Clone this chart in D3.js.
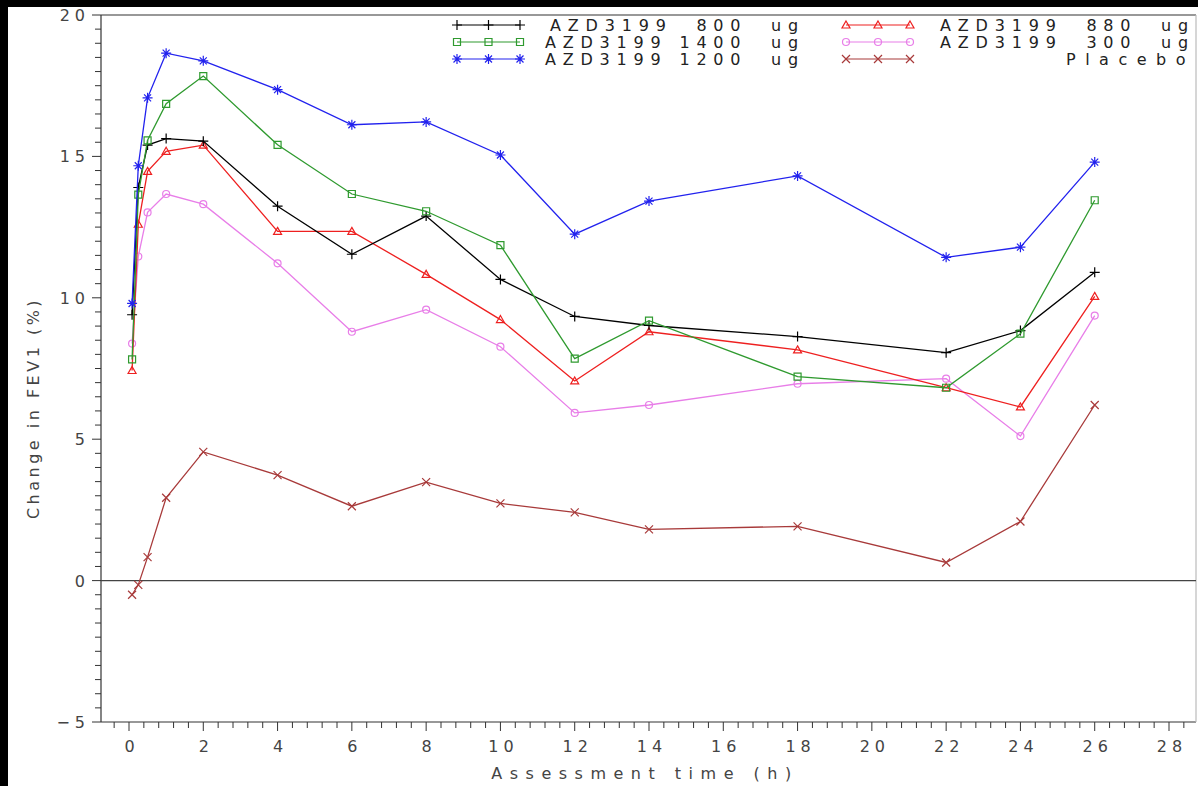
<!DOCTYPE html>
<html><head><meta charset="utf-8">
<script src="https://cdn.jsdelivr.net/npm/d3@7"></script>
<style>
html,body{margin:0;padding:0;background:#fff;}
svg text{white-space:pre;}
</style></head>
<body><svg id="chart" width="1198" height="786"></svg>
<script>
const times = [0.083, 0.25, 0.5, 1, 2, 4, 6, 8, 10, 12, 14, 18, 22, 24, 26];
const azd800  = [9.4, 13.9, 15.4, 15.63, 15.54, 13.24, 11.54, 12.89, 10.65, 9.34, 9.02, 8.63, 8.06, 8.84, 10.9];
const azd1400 = [7.82, 13.65, 15.57, 16.86, 17.84, 15.41, 13.67, 13.06, 11.86, 7.85, 9.19, 7.21, 6.82, 8.73, 13.45];
const azd1200 = [9.8, 14.67, 17.07, 18.65, 18.38, 17.36, 16.12, 16.22, 15.05, 12.25, 13.42, 14.31, 11.43, 11.79, 14.8];
const azd880  = [7.43, 12.6, 14.47, 15.18, 15.4, 12.35, 12.35, 10.83, 9.23, 7.06, 8.8, 8.16, 6.82, 6.14, 10.05];
const azd300  = [8.38, 11.46, 13.02, 13.67, 13.31, 11.22, 8.8, 9.58, 8.27, 5.93, 6.21, 6.96, 7.14, 5.11, 9.37];
const placebo = [-0.5, -0.15, 0.83, 2.93, 4.55, 3.73, 2.63, 3.48, 2.73, 2.41, 1.81, 1.92, 0.64, 2.09, 6.21];
const seriesNames = ["AZD3199  800  ug", "AZD3199 1400  ug", "AZD3199 1200  ug", "AZD3199  880  ug", "AZD3199  300  ug", "Placebo"];
const xTicks = [0, 2, 4, 6, 8, 10, 12, 14, 16, 18, 20, 22, 24, 26, 28];
const yTicks = [-5, 0, 5, 10, 15, 20];

const svg = d3.select("#chart");
const x = d3.scaleLinear().domain([0, 28]).range([129, 1169]);
const y = d3.scaleLinear().domain([-5, 20]).range([722, 15]);
const left = 101, right = 1196;

// outer black border
svg.append("rect").attr("x",0).attr("y",0).attr("width",1198).attr("height",7).attr("fill","#000");
svg.append("rect").attr("x",0).attr("y",0).attr("width",8).attr("height",786).attr("fill","#000");

// frame
const frame = svg.append("g").attr("stroke","#333").attr("fill","none").attr("stroke-width",1.2);
frame.append("line").attr("x1",left).attr("x2",left).attr("y1",y(20)).attr("y2",y(-5));
frame.append("line").attr("x1",left).attr("x2",right).attr("y1",y(20)).attr("y2",y(20));
frame.append("line").attr("x1",left).attr("x2",right).attr("y1",y(-5)).attr("y2",y(-5));
frame.append("line").attr("x1",right).attr("x2",right).attr("y1",y(20)).attr("y2",y(-5)).attr("stroke","#bbb");
// zero reference
svg.append("line").attr("x1",left).attr("x2",right).attr("y1",y(0)).attr("y2",y(0)).attr("stroke","#444").attr("stroke-width",1.2);

// axes with minor ticks
const yMinor = d3.range(-5, 20.001, 0.5);
svg.append("g").selectAll("line").data(yMinor).join("line")
  .attr("x1", d => yTicks.includes(d) ? left-9 : left-6).attr("x2", left)
  .attr("y1", d => y(d)).attr("y2", d => y(d)).attr("stroke","#333");
svg.append("g").selectAll("text").data(yTicks).join("text")
  .attr("x", 90).attr("y", d => y(d)+6).attr("text-anchor","end")
  .attr("font-family","DejaVu Sans").attr("font-size",16).attr("letter-spacing",5).attr("fill","#444")
  .text(d => d < 0 ? "\u2212" + Math.abs(d) : String(d));

const xMinor = d3.range(-0.4, 28.7, 0.4);
svg.append("g").selectAll("line").data(xMinor).join("line")
  .attr("y1", y(-5)).attr("y2", d => Math.abs(d/2 - Math.round(d/2)) < 1e-6 ? y(-5)+9 : y(-5)+6)
  .attr("x1", d => x(d)).attr("x2", d => x(d)).attr("stroke","#333");
svg.append("g").selectAll("text").data(xTicks).join("text")
  .attr("x", d => x(d)+3).attr("y", 752).attr("text-anchor","middle")
  .attr("font-family","DejaVu Sans").attr("font-size",16).attr("letter-spacing",5).attr("fill","#444")
  .text(d => String(d));

svg.append("text").attr("x", 645).attr("y", 779).attr("text-anchor","middle")
  .attr("font-family","DejaVu Sans").attr("font-size",16).attr("letter-spacing",7.5).attr("fill","#444")
  .text("Assessment time (h)");
svg.append("text").attr("transform","translate(39,408) rotate(-90)").attr("text-anchor","middle")
  .attr("font-family","DejaVu Sans").attr("font-size",16).attr("letter-spacing",3.5).attr("fill","#444")
  .text("Change in FEV1 (%)");

// markers
const markers = {
  plus: "M-5,0H5M0,-5V5",
  square: "M-3.5,-3.5H3.5V3.5H-3.5Z",
  star: "M-5,0H5M0,-5V5M-3.5,-3.5L3.5,3.5M-3.5,3.5L3.5,-3.5",
  tri: "M0,-4L4,3H-4Z",
  circle: "M3.5,0A3.5,3.5 0 1,1 -3.5,0A3.5,3.5 0 1,1 3.5,0Z",
  cross: "M-4,-4L4,4M-4,4L4,-4"
};
const series = [
  {name: seriesNames[0], vals: azd800, color: "#000000", m: "plus"},
  {name: seriesNames[1], vals: azd1400, color: "#2f9a2f", m: "square"},
  {name: seriesNames[2], vals: azd1200, color: "#2222ee", m: "star"},
  {name: seriesNames[3], vals: azd880, color: "#ee2020", m: "tri"},
  {name: seriesNames[4], vals: azd300, color: "#e87ee8", m: "circle"},
  {name: seriesNames[5], vals: placebo, color: "#a83a3a", m: "cross"}
];
const line = d3.line().x(d => x(d[0])).y(d => y(d[1]));
const draw = [5,4,3,0,1,2];
draw.forEach(i => {
  const s = series[i];
  const pts = times.map((t,j) => [t, s.vals[j]]);
  svg.append("path").attr("d", line(pts)).attr("fill","none").attr("stroke", s.color).attr("stroke-width",1.3);
  svg.append("g").selectAll("path").data(pts).join("path")
    .attr("transform", d => `translate(${x(d[0])},${y(d[1])})`)
    .attr("d", markers[s.m]).attr("fill","none").attr("stroke", s.color).attr("stroke-width",1.2);
});

// legend
const legPos = [
  {i:0, x1:457, x2:520, tx:805, ty:25},
  {i:1, x1:457, x2:520, tx:805, ty:42},
  {i:2, x1:457, x2:520, tx:805, ty:59},
  {i:3, x1:846, x2:910, tx:1195, ty:25},
  {i:4, x1:846, x2:910, tx:1195, ty:42},
  {i:5, x1:846, x2:910, tx:1195, ty:59}
];
legPos.forEach(p => {
  const s = series[p.i];
  const g = svg.append("g");
  g.append("line").attr("x1",p.x1).attr("x2",p.x2).attr("y1",p.ty).attr("y2",p.ty).attr("stroke",s.color).attr("stroke-width",1.2);
  [p.x1, (p.x1+p.x2)/2, p.x2].forEach(mx => {
    g.append("path").attr("transform",`translate(${mx},${p.ty})`).attr("d", markers[s.m])
      .attr("fill","none").attr("stroke",s.color).attr("stroke-width",1.2);
  });
  g.append("text").attr("x", p.tx).attr("y", p.ty+6).attr("text-anchor","end")
    .attr("font-family","DejaVu Sans").attr("font-size",16)
    .attr("letter-spacing", p.i === 5 ? 9.5 : 6.8).attr("fill","#222")
    .text(s.name);
});
</script></body></html>
